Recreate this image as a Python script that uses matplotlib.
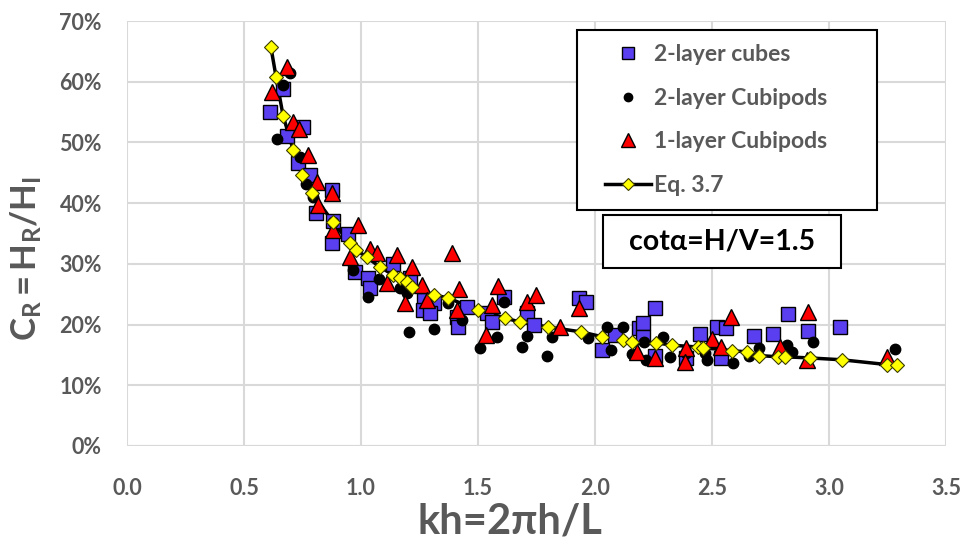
import matplotlib
matplotlib.use("Agg")
import matplotlib.pyplot as plt
from matplotlib.lines import Line2D
from matplotlib.patches import Rectangle
from matplotlib.ticker import FuncFormatter

plt.rcParams['font.family'] = ['Lato', 'DejaVu Sans']
plt.rcParams['mathtext.fontset'] = 'custom'
plt.rcParams['mathtext.rm'] = 'Lato'
plt.rcParams['mathtext.bf'] = 'Lato:bold'
plt.rcParams['mathtext.it'] = 'Lato:italic'

# 2-layer cubes
cubes_x = [0.611, 0.667, 0.684, 0.752, 0.731, 0.782, 0.876, 0.808, 0.880, 0.945,
           0.876, 0.974, 1.030, 1.040, 1.137, 1.210, 1.270, 1.310, 1.265, 1.295,
           1.410, 1.453, 1.415, 1.540, 1.560, 1.610, 1.710, 1.740, 1.930, 1.960,
           2.085, 2.030, 2.190, 2.205, 2.256, 2.205, 2.256, 2.390, 2.450, 2.520,
           2.560, 2.540, 2.680, 2.760, 2.825, 2.910, 3.047]
cubes_y = [55.0, 58.8, 51.1, 52.6, 46.6, 44.6, 42.2, 38.4, 37.1, 35.0,
           33.4, 28.7, 27.7, 26.1, 30.0, 27.7, 24.0, 23.6, 22.4, 21.9,
           21.3, 22.9, 19.6, 21.9, 20.4, 24.5, 21.9, 19.9, 24.4, 23.7,
           18.3, 15.8, 19.4, 20.3, 22.7, 17.9, 14.8, 14.5, 18.5, 19.6,
           19.4, 14.5, 18.1, 18.4, 21.7, 18.9, 19.6]

# 2-layer Cubipods
cubipods2_x = [0.697, 0.667, 0.641, 0.740, 0.765, 0.795, 0.880, 0.966, 1.030, 1.075,
               1.167, 1.197, 1.205, 1.310, 1.370, 1.430, 1.510, 1.580, 1.610, 1.690,
               1.710, 1.795, 1.816, 1.970, 2.050, 2.120, 2.070, 2.160, 2.210, 2.220,
               2.290, 2.320, 2.390, 2.470, 2.480, 2.590, 2.660, 2.700, 2.820, 2.840,
               2.930, 3.280]
cubipods2_y = [61.5, 59.5, 50.6, 47.6, 43.1, 41.0, 36.9, 29.0, 24.5, 27.5,
               26.1, 25.2, 18.8, 19.2, 23.6, 20.8, 16.1, 17.9, 23.7, 16.3,
               18.1, 14.9, 18.0, 17.8, 19.6, 19.6, 15.8, 15.2, 17.1, 14.2,
               18.0, 14.7, 15.3, 15.3, 14.2, 13.6, 14.8, 16.1, 16.6, 15.5,
               17.1, 15.9]

# 1-layer Cubipods
cubipods1_x = [0.684, 0.620, 0.710, 0.735, 0.774, 0.812, 0.876, 0.816, 0.987, 0.880,
               0.953, 1.040, 1.068, 1.154, 1.110, 1.218, 1.260, 1.190, 1.280, 1.390,
               1.420, 1.410, 1.585, 1.560, 1.535, 1.710, 1.750, 1.850, 1.930, 2.180,
               2.256, 2.390, 2.385, 2.500, 2.540, 2.580, 2.790, 2.910, 2.906, 3.250]
cubipods1_y = [62.4, 58.3, 53.4, 52.2, 47.9, 43.5, 41.7, 39.7, 36.4, 35.6,
               31.1, 32.5, 31.8, 31.5, 26.9, 29.5, 26.5, 23.6, 24.0, 31.8,
               25.8, 22.4, 26.4, 23.2, 18.3, 23.7, 24.9, 19.6, 22.7, 15.5,
               14.5, 16.1, 13.8, 17.6, 16.3, 21.3, 16.3, 22.1, 14.2, 14.7]

# Eq. 3.7
eq_x = [0.615, 0.637, 0.667, 0.710, 0.748, 0.790, 0.880, 0.953, 0.980, 1.025,
        1.080, 1.137, 1.167, 1.197, 1.218, 1.310, 1.370, 1.500, 1.615, 1.680,
        1.800, 1.940, 2.030, 2.120, 2.160, 2.260, 2.330, 2.440, 2.460, 2.585,
        2.650, 2.700, 2.780, 2.810, 2.920, 3.055, 3.250, 3.290]
eq_y = [65.7, 60.8, 54.4, 48.8, 44.6, 41.7, 36.9, 33.4, 32.3, 31.1,
        29.5, 28.2, 27.7, 27.0, 26.2, 24.9, 24.4, 22.4, 21.1, 20.4,
        19.6, 18.8, 18.0, 17.5, 17.1, 17.0, 16.6, 16.3, 16.2, 15.7,
        15.5, 14.9, 14.7, 14.7, 14.5, 14.2, 13.4, 13.3]

x_ticks = [0.0, 0.5, 1.0, 1.5, 2.0, 2.5, 3.0, 3.5]
y_ticks = [0, 10, 20, 30, 40, 50, 60, 70]

GRAY = '#595959'
GRID = '#d9d9d9'
SQ_BLUE = '#5a3ff0'
W, H = 970, 552

fig = plt.figure(figsize=(W / 100, H / 100), dpi=100)
ax = fig.add_axes([127 / W, 1 - 446 / H, (946 - 127) / W, (446 - 21) / H])

ax.set_xlim(0, 3.5)
ax.set_ylim(0, 70)
ax.set_xticks(x_ticks)
ax.set_yticks(y_ticks)
ax.xaxis.set_major_formatter(FuncFormatter(lambda v, p: f"{v:.1f}"))
ax.yaxis.set_major_formatter(FuncFormatter(lambda v, p: f"{v:.0f}%"))
ax.grid(True, color=GRID, linewidth=1.5, zorder=0)
ax.set_axisbelow(True)
for s in ax.spines.values():
    s.set_visible(False)
ax.axhline(0, color=GRID, linewidth=1.5, zorder=0)
ax.tick_params(length=0, labelsize=15.5, labelcolor=GRAY)
ax.tick_params(axis='y', pad=18)
ax.tick_params(axis='x', pad=23)
for lab in ax.get_xticklabels() + ax.get_yticklabels():
    lab.set_fontweight('bold')

ax.plot(eq_x, eq_y, color='black', linewidth=2.5, zorder=2)
ax.plot(cubes_x, cubes_y, linestyle='none', marker='s', markersize=10,
        markerfacecolor=SQ_BLUE, markeredgecolor='black', markeredgewidth=1.0, zorder=3)
ax.plot(cubipods2_x, cubipods2_y, linestyle='none', marker='o', markersize=7.5,
        markerfacecolor='black', markeredgecolor='black', zorder=4)
ax.plot(cubipods1_x, cubipods1_y, linestyle='none', marker='^', markersize=11,
        markerfacecolor='#ff0000', markeredgecolor='black', markeredgewidth=1.0, zorder=5)
ax.plot(eq_x, eq_y, linestyle='none', marker='D', markersize=7,
        markerfacecolor='#ffff00', markeredgecolor='#3a3a00', markeredgewidth=0.8, zorder=6)

# axis titles
fig.text(510 / W, 1 - 522 / H, 'kh=2πh/L', ha='center', va='center',
         fontsize=30, fontweight='bold', color=GRAY)
fig.text(26 / W, 1 - 258 / H, r'$\mathbf{C_R{=}H_R/H_I}$', ha='center', va='center',
         rotation=90, fontsize=25, color=GRAY)

# legend
handles = [
    Line2D([], [], linestyle='none', marker='s', markersize=9, markerfacecolor=SQ_BLUE,
           markeredgecolor='black', markeredgewidth=1.0),
    Line2D([], [], linestyle='none', marker='o', markersize=6, markerfacecolor='black',
           markeredgecolor='black'),
    Line2D([], [], linestyle='none', marker='^', markersize=10, markerfacecolor='#ff0000',
           markeredgecolor='black', markeredgewidth=1.0),
    Line2D([], [], color='black', linewidth=2.5, marker='D', markersize=6,
           markerfacecolor='#ffff00', markeredgecolor='#3a3a00', markeredgewidth=0.8),
]
labels = ['2-layer cubes', '2-layer Cubipods', '1-layer Cubipods', 'Eq. 3.7']
leg = ax.legend(handles, labels, loc='upper left',
                bbox_to_anchor=((591 - 127) / 819, (446 - 30) / 425),
                frameon=False, prop={'size': 16.5, 'weight': 'bold'},
                handlelength=2.0, handletextpad=0.1, labelspacing=0.98,
                borderpad=0.63, borderaxespad=0)
for t in leg.get_texts():
    t.set_color(GRAY)
leg.set_zorder(10)

x0, x1 = (577 - 127) / 819, (877 - 127) / 819
y0, y1 = (446 - 210) / 425, (446 - 30) / 425
ax.add_patch(Rectangle((x0, y0), x1 - x0, y1 - y0, transform=ax.transAxes,
                       facecolor='white', edgecolor='black', linewidth=1.5, zorder=8))

# slope annotation box
bx0, bx1 = (603 - 127) / 819, (841 - 127) / 819
by0, by1 = (446 - 268) / 425, (446 - 215) / 425
ax.add_patch(Rectangle((bx0, by0), bx1 - bx0, by1 - by0, transform=ax.transAxes,
                       facecolor='white', edgecolor='black', linewidth=1.5, zorder=8))
ax.text((bx0 + bx1) / 2, (by0 + by1) / 2, 'cotα=H/V=1.5', transform=ax.transAxes,
        ha='center', va='center', fontsize=20.5, fontweight='bold', color='black', zorder=9)

fig.savefig('out.png', dpi=100)
